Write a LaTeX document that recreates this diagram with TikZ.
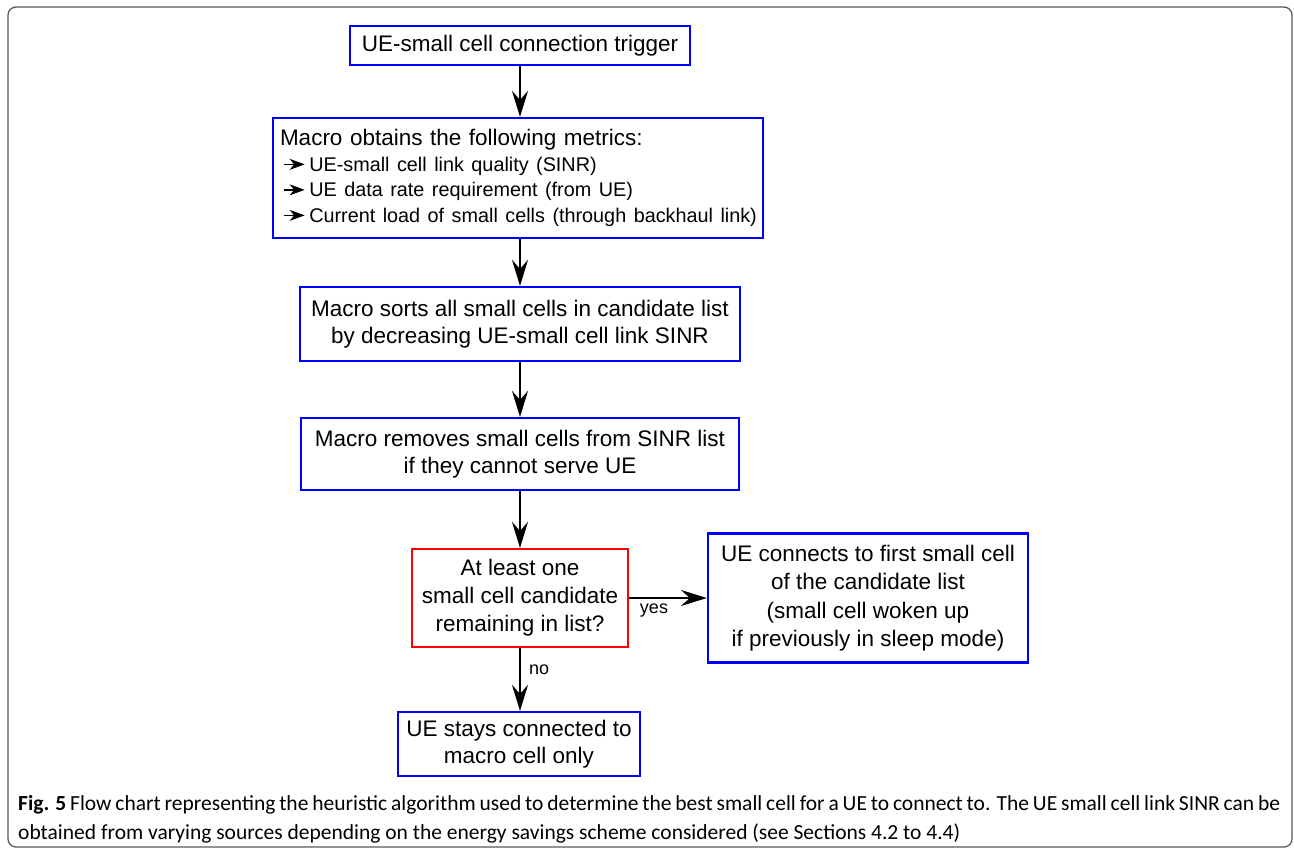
\documentclass[tikz,border=0pt]{standalone}
\usepackage{fontspec}
\setmainfont{Liberation Sans}
\newfontfamily\capfont{Carlito}
\usetikzlibrary{arrows.meta}

% small arrow used as list marker
\newcommand{\itemarrow}{\tikz[baseline={(0pt,-7pt)}]\draw[line width=1.3pt,line cap=butt,-{Stealth[length=15pt,width=11pt,inset=4.5pt]}] (0pt,0pt) -- (21pt,0pt);}
\newcommand{\itemline}[1]{\mbox{\hspace*{3pt}\itemarrow\hspace{4pt}\fontsize{19.8}{25.5}\selectfont#1}}

\tikzset{
  stepbox/.style={draw=blue, line width=2.2pt, fill=white, inner sep=0pt,
    align=center, font=\fontsize{22.5}{27.5}\selectfont},
  testbox/.style={stepbox, draw=red},
  flow/.style={line width=2pt, -{Stealth[length=26pt,width=16pt,inset=9pt]}},
  edgelabel/.style={font=\fontsize{18}{20}\selectfont, inner sep=2pt},
  frame/.style={draw=black!65, line width=1.3pt, rounded corners=8pt},
}

\begin{document}
\begin{tikzpicture}[x=1pt, y=-1pt]
  \useasboundingbox (0,0) rectangle (1294,855);
  \draw[frame] (8,7) rectangle (1292,847);

  % process steps
  \node[stepbox, minimum width=490pt, minimum height=120pt, align=left,
        text width=476pt, font=\fontsize{22.5}{25.5}\selectfont] (metrics) at (518,178)
    {\mbox{Macro obtains the following metrics:}\\
     \itemline{UE-small cell link quality (SINR)}\\
     \itemline{UE data rate requirement (from UE)}\\
     \itemline{Current load of small cells (through backhaul link)}};
  \node[stepbox, minimum width=340pt, minimum height=39pt] (trigger) at (520,45.5)
    {UE-small cell connection trigger};
  \node[stepbox, minimum width=440pt, minimum height=74pt] (sort) at (520,324)
    {Macro sorts all small cells in candidate list\\by decreasing UE-small cell link SINR};
  \node[stepbox, minimum width=438pt, minimum height=72pt] (remove) at (520,454)
    {Macro removes small cells from SINR list\\if they cannot serve UE};
  \node[testbox, minimum width=216pt, minimum height=98pt, font=\fontsize{22.5}{28}\selectfont] (check) at (520,598)
    {At least one\\small cell candidate\\remaining in list?};
  \node[stepbox, minimum width=320pt, minimum height=129pt, font=\fontsize{22.5}{28.5}\selectfont] (connect) at (868,598)
    {UE connects to first small cell\\of the candidate list\\(small cell woken up\\if previously in sleep mode)};
  \node[stepbox, minimum width=242pt, minimum height=64pt] (stay) at (519,744)
    {UE stays connected to\\macro cell only};

  % connectors
  \draw[flow] (trigger.south) -- (trigger.south |- metrics.north);
  \draw[flow] (sort.north |- metrics.south) -- (sort.north);
  \draw[flow] (sort.south) -- (remove.north);
  \draw[flow] (remove.south) -- (check.north);
  \draw[flow] (check.east) -- node[edgelabel, pos=0.32, below=3pt] (yes) {yes} (connect.west);
  \draw[flow] (check.south) -- node[edgelabel, pos=0.35, right=6pt] (no) {no} (check.south |- stay.north);

  % caption
  \node[anchor=north west, text width=1262pt, align=justify, inner sep=0pt,
        font=\capfont\fontsize{21.5}{29}\selectfont] (caption) at (18,795)
    {\textbf{Fig. 5} Flow chart representing the heuristic algorithm used to determine the best small cell for a UE to connect to. The UE small cell link SINR can be\linebreak
     obtained from varying sources depending on the energy savings scheme considered (see Sections 4.2 to 4.4)};
\end{tikzpicture}
\end{document}
